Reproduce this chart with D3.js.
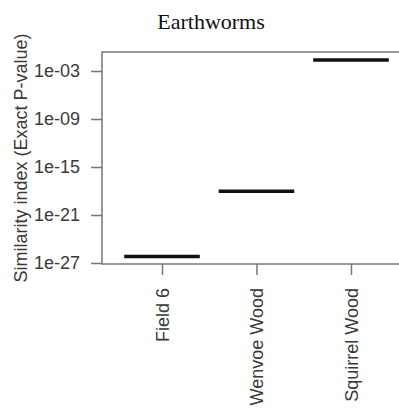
<!DOCTYPE html>
<html><head><meta charset="utf-8">
<script src="https://cdn.jsdelivr.net/npm/d3@7"></script>
<style>html,body{margin:0;padding:0;background:#fff;overflow:hidden}</style>
</head><body><svg id="c" width="399" height="411"></svg>
<script>
const categories = ["Field 6", "Wenvoe Wood", "Squirrel Wood"];
const medians = [6.3e-27, 9e-19, 2.4e-2];
const yTicks = [1e-27, 1e-21, 1e-15, 1e-9, 1e-3];
const yTickLabels = ["1e-27", "1e-21", "1e-15", "1e-09", "1e-03"];
const title = "Earthworms";
const yTitle = "Similarity index (Exact P-value)";

const svg = d3.select("#c");
const pLeft = 102, pRight = 411, pTop = 52, pBottom = 264;
const x = d3.scaleLinear().domain([0.365, 3.635]).range([pLeft, pRight]);
const y = d3.scaleLog().domain([Math.pow(10, -27.125), Math.pow(10, -0.625)]).range([pBottom, pTop]);

const axisCol = "#777", textCol = "#3a3a3a";

// box
svg.append("rect").attr("x", pLeft).attr("y", pTop).attr("width", pRight - pLeft).attr("height", pBottom - pTop)
  .attr("fill", "none").attr("stroke", axisCol).attr("stroke-width", 1.5);

// y axis
const yAxis = svg.append("g").attr("transform", `translate(${pLeft},0)`)
  .call(d3.axisLeft(y).tickValues(yTicks).tickFormat((d, i) => yTickLabels[i]).tickSize(11).tickPadding(11));
yAxis.select(".domain").remove();
yAxis.selectAll("line").attr("stroke", axisCol).attr("stroke-width", 1.5);
yAxis.selectAll("text").attr("fill", textCol).style("font-family", "Liberation Sans, Arial, sans-serif").style("font-size", "18px");

// x axis
const xAxis = svg.append("g").attr("transform", `translate(0,${pBottom})`)
  .call(d3.axisBottom(x).tickValues([1, 2, 3]).tickFormat((d) => categories[d - 1]).tickSize(11));
xAxis.select(".domain").remove();
xAxis.selectAll("line").attr("stroke", axisCol).attr("stroke-width", 1.5);
xAxis.selectAll("text")
  .attr("fill", textCol)
  .style("font-family", "Liberation Sans, Arial, sans-serif").style("font-size", "18px")
  .attr("text-anchor", "end")
  .attr("transform", "translate(0,24) rotate(-90)")
  .attr("x", 0).attr("y", 0).attr("dy", "0.35em");

// medians
const halfW = 0.4;
svg.append("g").selectAll("line").data(medians).join("line")
  .attr("x1", (d, i) => x(i + 1 - halfW)).attr("x2", (d, i) => x(i + 1 + halfW))
  .attr("y1", d => y(d)).attr("y2", d => y(d))
  .attr("stroke", "#111").attr("stroke-width", 3.5);

// title
svg.append("text").attr("x", 211).attr("y", 29).attr("text-anchor", "middle")
  .style("font-family", "Liberation Serif, Times New Roman, serif").style("font-size", "22px")
  .attr("fill", "#111").text(title);

// y title
svg.append("text").attr("transform", `translate(27,${(pTop + pBottom) / 2}) rotate(-90)`)
  .attr("text-anchor", "middle")
  .style("font-family", "Liberation Sans, Arial, sans-serif").style("font-size", "18px")
  .attr("fill", textCol).text(yTitle);
</script></body></html>
